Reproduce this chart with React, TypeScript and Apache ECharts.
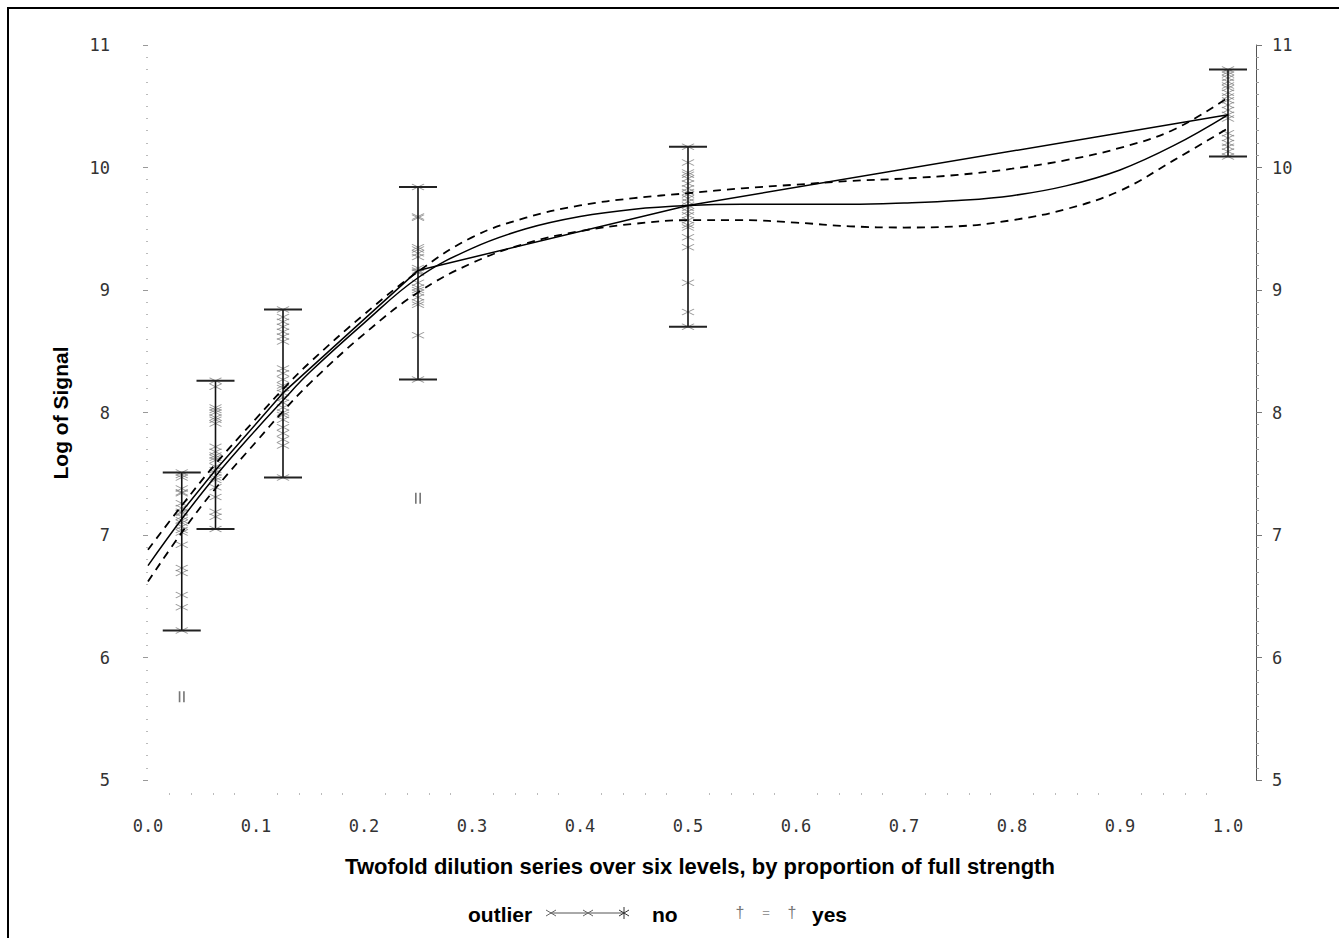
import React, { useEffect, useRef } from "react";
import * as echarts from "echarts";

// ---- data ----
const levels = [0.03125, 0.0625, 0.125, 0.25, 0.5, 1.0];
const g1 = [7.51, 7.49, 7.47, 7.38, 7.35, 7.34, 7.26, 7.22, 7.19, 7.18, 7.15, 7.12, 7.1, 7.07, 7.04, 7.02, 6.92, 6.73, 6.69, 6.51, 6.41, 6.22];
const g2 = [8.26, 8.21, 8.04, 8.02, 8.0, 7.96, 7.94, 7.91, 7.72, 7.68, 7.65, 7.63, 7.61, 7.56, 7.53, 7.51, 7.47, 7.45, 7.39, 7.31, 7.19, 7.15, 7.05];
const g3 = [8.84, 8.78, 8.74, 8.7, 8.66, 8.62, 8.58, 8.36, 8.32, 8.27, 8.22, 8.2, 8.16, 8.12, 8.08, 8.04, 8.0, 7.98, 7.94, 7.88, 7.83, 7.78, 7.73, 7.47];
const g4 = [9.84, 9.6, 9.59, 9.35, 9.33, 9.3, 9.27, 9.18, 9.16, 9.15, 9.14, 9.06, 9.02, 9.0, 8.98, 8.94, 8.9, 8.88, 8.63, 8.27];
const g5 = [10.17, 10.04, 9.96, 9.94, 9.91, 9.87, 9.83, 9.8, 9.78, 9.75, 9.72, 9.69, 9.67, 9.64, 9.61, 9.57, 9.53, 9.51, 9.43, 9.35, 9.06, 8.82, 8.7];
const g6 = [10.8, 10.78, 10.76, 10.73, 10.7, 10.67, 10.65, 10.61, 10.58, 10.55, 10.51, 10.47, 10.43, 10.4, 10.28, 10.24, 10.2, 10.17, 10.13, 10.09];
const groups = [g1, g2, g3, g4, g5, g6];
const means = [7.19, 7.53, 8.16, 9.16, 9.69, 10.43];
const outlierX = [0.03125, 0.25];
const outlierY = [5.68, 7.3];

const fitX = [0, 0.03125, 0.0625, 0.1, 0.125, 0.15, 0.2, 0.25, 0.3, 0.35, 0.4, 0.45, 0.5, 0.55, 0.6, 0.65, 0.7, 0.75, 0.8, 0.85, 0.9, 0.95, 1.0];
const fit = [6.75, 7.13, 7.48, 7.86, 8.1, 8.33, 8.73, 9.1, 9.34, 9.5, 9.6, 9.66, 9.69, 9.7, 9.7, 9.7, 9.71, 9.73, 9.77, 9.85, 9.98, 10.18, 10.43];
const upper = [6.88, 7.24, 7.58, 7.95, 8.19, 8.41, 8.8, 9.15, 9.43, 9.59, 9.69, 9.75, 9.79, 9.83, 9.86, 9.89, 9.91, 9.94, 9.99, 10.06, 10.16, 10.31, 10.57];
const lower = [6.62, 7.02, 7.38, 7.76, 8.01, 8.24, 8.64, 8.98, 9.22, 9.38, 9.48, 9.54, 9.57, 9.57, 9.55, 9.52, 9.51, 9.52, 9.57, 9.66, 9.81, 10.06, 10.32];

const xTitle = "Twofold dilution series over six levels, by proportion of full strength";
const yTitle = "Log of Signal";
const legendTitle = "outlier";
const legendNames = ["no", "yes"];

export default function App() {
  const ref = useRef<HTMLDivElement>(null);
  useEffect(() => {
    if (!ref.current) return;
    const chart = echarts.init(ref.current, null, { renderer: "svg" });
    const pts: number[][] = [];
    groups.forEach((g, i) => g.forEach((v) => pts.push([levels[i], v])));
    const bars = groups.map((g, i) => [levels[i], Math.min(...g), Math.max(...g)]);
    const pair = (xs: number[], ys: number[]) => xs.map((x, i) => [x, ys[i]]);
    const tickFont = { fontFamily: "DejaVu Sans Mono", fontSize: 17, color: "#333" };
    const bold = { fontFamily: "Liberation Sans", fontWeight: "bold" as const, fontSize: 21, fill: "#000" };
    const xm = (cx: number, cy: number, c = "#666") => [
      { type: "line", shape: { x1: cx - 5, y1: cy - 3, x2: cx + 5, y2: cy + 3 }, style: { stroke: c, lineWidth: 1 } },
      { type: "line", shape: { x1: cx - 5, y1: cy + 3, x2: cx + 5, y2: cy - 3 }, style: { stroke: c, lineWidth: 1 } },
    ];
    chart.setOption({
      animation: false,
      backgroundColor: "#fff",
      grid: { left: 148, right: 111, top: 45, bottom: 158 },
      xAxis: {
        type: "value",
        min: 0,
        max: 1,
        interval: 0.1,
        offset: 13,
        axisLine: { show: false },
        axisTick: { show: false },
        minorTick: { show: true, splitNumber: 5, length: 2, lineStyle: { color: "#bbb" } },
        splitLine: { show: false },
        axisLabel: { ...tickFont, margin: 24, formatter: (v: number) => v.toFixed(1) },
      },
      yAxis: [
        {
          type: "value",
          position: "left",
          min: 5,
          max: 11,
          interval: 1,
          offset: 24,
          axisLine: { show: false },
          axisTick: { show: true, length: 5, lineStyle: { color: "#999" } },
          minorTick: { show: true, splitNumber: 10, length: 2, lineStyle: { color: "#bbb" } },
          splitLine: { show: false },
          axisLabel: { ...tickFont, margin: 14 },
        },
        {
          type: "value",
          position: "right",
          min: 5,
          max: 11,
          interval: 1,
          offset: 28,
          axisLine: { show: true, lineStyle: { color: "#555", width: 1 } },
          axisTick: { show: true, length: 6, lineStyle: { color: "#777" } },
          minorTick: { show: true, splitNumber: 10, length: 3, lineStyle: { color: "#999" } },
          splitLine: { show: false },
          axisLabel: { ...tickFont, margin: 16 },
        },
      ],
      series: [
        {
          type: "scatter",
          name: "no",
          data: pts,
          symbol: "path://M0,0L12,6M0,6L12,0",
          symbolSize: [12, 6],
          itemStyle: { color: "none", borderColor: "#808080", borderWidth: 1 },
          z: 2,
        },
        {
          type: "custom",
          data: bars,
          z: 3,
          renderItem: (params: any, api: any) => {
            const x = api.value(0);
            const lo = api.coord([x, api.value(1)]);
            const hi = api.coord([x, api.value(2)]);
            return {
              type: "group",
              children: [
                { type: "line", shape: { x1: lo[0], y1: lo[1], x2: hi[0], y2: hi[1] }, style: { stroke: "#111", lineWidth: 1.6 } },
                { type: "line", shape: { x1: hi[0] - 19, y1: hi[1], x2: hi[0] + 19, y2: hi[1] }, style: { stroke: "#222", lineWidth: 2 } },
                { type: "line", shape: { x1: lo[0] - 19, y1: lo[1], x2: lo[0] + 19, y2: lo[1] }, style: { stroke: "#222", lineWidth: 2 } },
              ],
            };
          },
        },
        {
          type: "line",
          data: pair(levels, means),
          showSymbol: false,
          lineStyle: { color: "#000", width: 1.5 },
          z: 4,
        },
        {
          type: "line",
          data: pair(fitX, fit),
          smooth: 0.4,
          showSymbol: false,
          lineStyle: { color: "#000", width: 1.5 },
          z: 4,
        },
        {
          type: "line",
          data: pair(fitX, upper),
          smooth: 0.4,
          showSymbol: false,
          lineStyle: { color: "#000", width: 1.8, type: [8, 6] },
          z: 4,
        },
        {
          type: "line",
          data: pair(fitX, lower),
          smooth: 0.4,
          showSymbol: false,
          lineStyle: { color: "#000", width: 1.8, type: [8, 6] },
          z: 4,
        },
        {
          type: "scatter",
          name: "yes",
          data: pair(outlierX, outlierY),
          symbol: "path://M0,0h1.5v11h-1.5z M4,0h1.5v11h-1.5z",
          symbolSize: [6, 11],
          itemStyle: { color: "#555" },
          z: 3,
        },
      ],
      graphic: [
        { type: "rect", shape: { x: 8, y: 8, width: 1400, height: 1000 }, style: { fill: "none", stroke: "#000", lineWidth: 2 }, silent: true },
        { type: "text", x: 60, y: 413, rotation: Math.PI / 2, style: { ...bold, text: yTitle, align: "center", verticalAlign: "middle" } },
        { type: "text", x: 700, y: 866, style: { ...bold, fontSize: 22, text: xTitle, align: "center", verticalAlign: "middle" } },
        { type: "text", x: 468, y: 914, style: { ...bold, text: legendTitle, align: "left", verticalAlign: "middle" } },
        { type: "line", shape: { x1: 550, y1: 913, x2: 624, y2: 913 }, style: { stroke: "#555", lineWidth: 1 } },
        ...xm(551, 913),
        ...xm(588, 913),
        ...xm(624, 913, "#333"),
        { type: "line", shape: { x1: 624, y1: 907, x2: 624, y2: 919 }, style: { stroke: "#333", lineWidth: 1 } },
        { type: "text", x: 652, y: 914, style: { ...bold, text: legendNames[0], align: "left", verticalAlign: "middle" } },
        { type: "text", x: 740, y: 912, style: { text: "†", fontFamily: "Liberation Sans", fontSize: 16, fill: "#777", align: "center", verticalAlign: "middle" } },
        { type: "text", x: 766, y: 912, style: { text: "=", fontFamily: "Liberation Sans", fontSize: 13, fill: "#999", align: "center", verticalAlign: "middle" } },
        { type: "text", x: 792, y: 912, style: { text: "†", fontFamily: "Liberation Sans", fontSize: 16, fill: "#777", align: "center", verticalAlign: "middle" } },
        { type: "text", x: 812, y: 914, style: { ...bold, text: legendNames[1], align: "left", verticalAlign: "middle" } },
      ],
    });
    return () => chart.dispose();
  }, []);
  return <div ref={ref} style={{ position: "fixed", left: 0, top: 0, width: 1339, height: 938 }} />;
}
